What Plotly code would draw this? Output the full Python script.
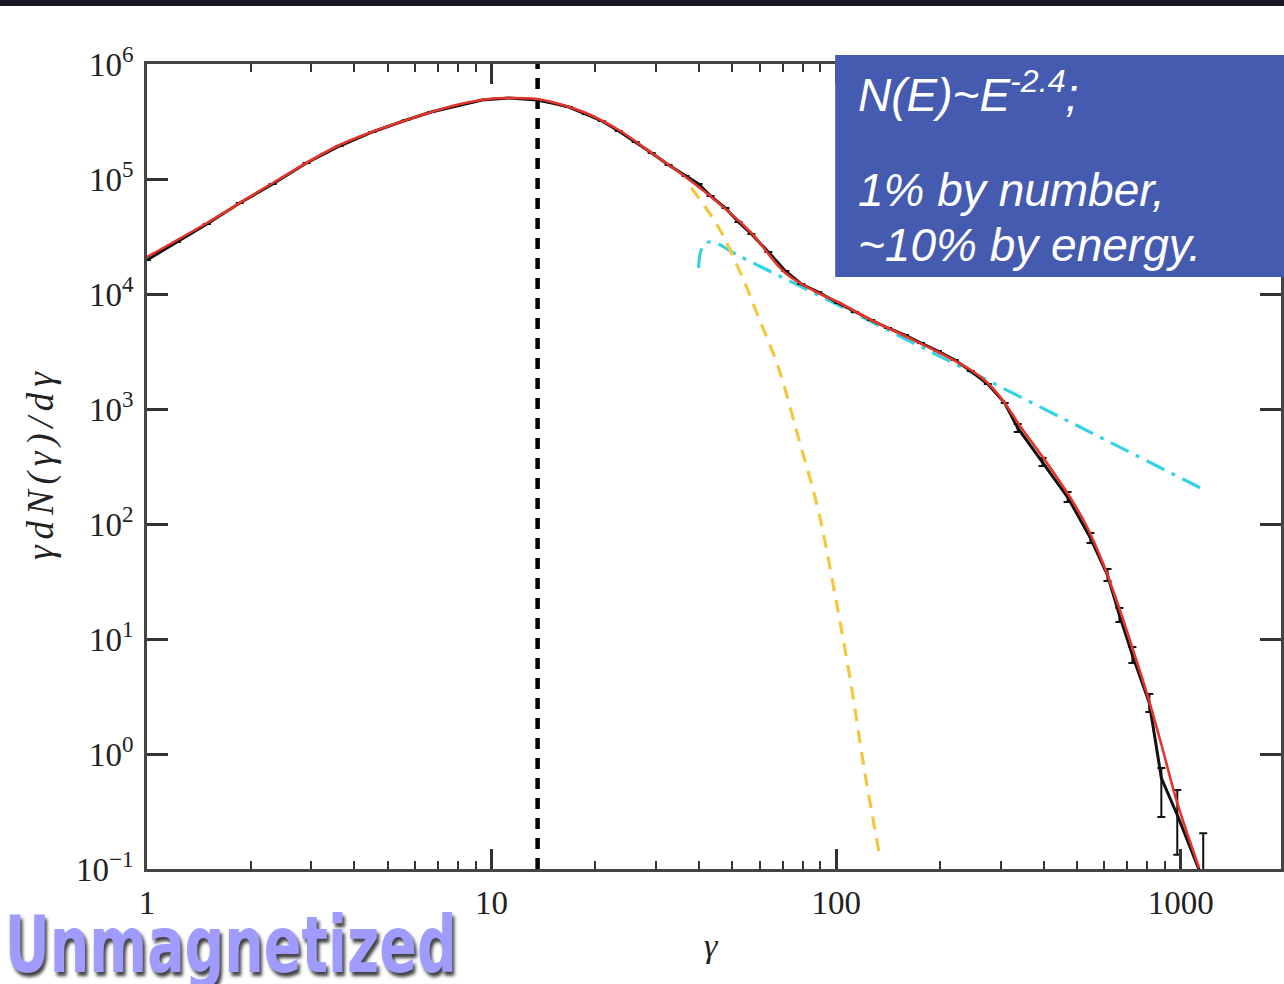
import plotly.graph_objects as go

# ---------------- data ----------------
# simulation spectrum (black, with error bars in the tail)
gamma_sim = [1.000, 1.221, 1.492, 1.859, 2.316, 2.904, 3.620, 4.510, 5.656, 6.680,
             7.895, 9.387, 11.24, 13.54, 14.97, 16.76, 18.77, 20.89, 23.39, 26.19,
             29.14, 32.64, 36.56, 39.87, 43.18, 47.73, 52.04, 56.75, 63.56, 71.19,
             79.19, 88.70, 101.3, 113.5, 126.3, 141.4, 158.4, 176.2, 197.3, 221.0,
             245.9, 275.4, 308.4,
             336.4, 397.2, 469.4, 547.0, 612.9, 663.7, 723.8, 810.6, 878.3, 977.0, 1162.0]
n_sim = [19750, 28330, 40610, 61840, 90440, 137800, 193600, 256300, 325900, 382400,
         431300, 486400, 506200, 486400, 458000, 422700, 367400, 319400, 261500, 209700,
         168300, 132300, 106200, 90440, 71150, 55960, 42270, 33240, 23190, 15850,
         12220, 10410, 8350, 6973, 5941, 5062, 4400, 3749, 3194, 2668,
         2140, 1650, 1128,
         683.7, 346.0, 171.7, 75.55, 36.02, 16.17, 7.26, 2.78, 0.618, 0.295, 0.080]
err_plus = [0] * 43 + [56.7, 28.7, 18.0, 7.9, 4.6, 2.4, 1.26, 0.55, 0.137, 0.192, 0.125]
err_minus = [0] * 43 + [52.7, 26.6, 16.3, 7.2, 4.1, 2.1, 1.07, 0.46, 0.335, 0.162, 0.04]

# total fit (red)
gamma_fit = [1.000, 1.492, 2.316, 3.620, 5.656, 7.895, 9.835, 11.24, 13.54, 14.97,
             18.77, 23.39, 29.14, 36.56, 45.56, 56.75, 71.19, 88.70, 101.3, 126.3,
             158.4, 197.3, 245.9, 275.4, 308.4, 343.2, 384.3, 430.5, 478.9, 536.3,
             592.7, 655.1, 723.8, 799.9, 884.2, 977.0, 1131.0]
n_fit = [20980, 41440, 92300, 197600, 325900, 440000, 496300, 506200, 496300, 467200,
         374900, 266800, 168300, 104100, 61840, 33910, 15220, 10200, 8520, 5940,
         4313, 3131, 2183, 1683, 1128, 697.4, 440.1, 272.2, 168.4, 92.3,
         46.7, 20.56, 8.35, 3.26, 1.128, 0.375, 0.102]

# Maxwellian component (yellow dashed)
gamma_mx = [38.0, 45.5, 53.1, 59.5, 67.9, 77.6, 88.7, 99.3, 110.5, 121.3, 134.1]
n_mx = [83500, 38200, 14600, 6310, 2320, 571, 132, 24.1, 3.98, 0.670, 0.125]

# power-law component (cyan dash-dot)
gamma_pl = [39.9, 40.4, 41.8, 44.1, 51.0, 100, 200, 500, 1170]
n_pl = [16800, 23200, 27700, 28300, 22300, 8180, 2870, 718, 198]

# vertical marker
gamma_mark = 13.6
y_mark = [0.1, 1e6]

x_ticks = [1, 10, 100, 1000]
x_ticktext = ["1", "10", "100", "1000"]
y_ticks = [1e-1, 1e0, 1e1, 1e2, 1e3, 1e4, 1e5, 1e6]
y_ticktext = ["10<sup>\u22121</sup>", "10<sup>0</sup>", "10<sup>1</sup>", "10<sup>2</sup>",
              "10<sup>3</sup>", "10<sup>4</sup>", "10<sup>5</sup>", "10<sup>6</sup>"]

# ---------------- figure ----------------
fig = go.Figure()

fig.add_trace(go.Scatter(x=gamma_pl, y=n_pl, mode="lines", line_shape="spline",
                         line=dict(color="#35D3E2", width=3.2, dash="20px,8px,4px,8px"),
                         showlegend=False))
fig.add_trace(go.Scatter(x=gamma_mx, y=n_mx, mode="lines", line_shape="spline",
                         line=dict(color="#F2C840", width=3.2, dash="13px,9px"),
                         showlegend=False))
fig.add_trace(go.Scatter(x=[gamma_mark, gamma_mark], y=y_mark, mode="lines",
                         line=dict(color="black", width=4.5, dash="11px,9px"),
                         showlegend=False))
fig.add_trace(go.Scatter(x=gamma_sim, y=n_sim, mode="lines",
                         line=dict(color="#111111", width=3),
                         error_y=dict(type="data", symmetric=False, array=err_plus,
                                      arrayminus=err_minus, color="#111111",
                                      thickness=2, width=4),
                         showlegend=False))
fig.add_trace(go.Scatter(x=gamma_fit, y=n_fit, mode="lines", line_shape="spline",
                         line=dict(color="#E5352B", width=2.6),
                         showlegend=False))

axis_common = dict(showgrid=False, zeroline=False, showline=True, linecolor="#444444",
                   linewidth=2.5, mirror="ticks", ticks="inside", tickcolor="#333333",
                   tickwidth=2.5,
                   tickfont=dict(family="Liberation Serif, Times New Roman, serif",
                                 size=33, color="#222222"))

fig.update_xaxes(type="log", range=[0, 3.2909], tickvals=x_ticks, ticktext=x_ticktext,
                 ticklen=20, ticklabelstandoff=3,
                 minor=dict(ticks="inside", ticklen=8, tickwidth=2, tickcolor="#333333",
                            dtick="D1", showgrid=False),
                 **axis_common)
fig.update_yaxes(type="log", range=[-1, 6], tickvals=y_ticks, ticktext=y_ticktext,
                 ticklen=21, ticklabelstandoff=4,
                 **axis_common)

W, H = 1284, 984
L, R, T, B = 147, 0, 64, 115
PW, PH = W - L - R, H - T - B


def px(x):
    return (x - L) / PW


def py(y):
    return (H - B - y) / PH


shapes = [
    dict(type="rect", xref="paper", yref="paper", x0=px(-10), x1=px(1300),
         y0=py(6), y1=py(-5), fillcolor="#1C1724", line_width=0, layer="above"),
    dict(type="rect", xref="paper", yref="paper", x0=px(837), x1=px(1300),
         y0=py(277), y1=py(55), fillcolor="#455BAF", line_width=0, layer="above"),
]

box_font = dict(family="Liberation Sans, Arial, sans-serif", size=46, color="white",
                style="italic")
serif_it = dict(family="Liberation Serif, Times New Roman, serif", size=37,
                color="#222222", style="italic")
annotations = [
    dict(text="N(E)~E<sup>-2.4</sup>;", xref="paper", yref="paper",
         x=px(858), y=py(92), xanchor="left", yanchor="middle", showarrow=False,
         font=box_font),
    dict(text="1% by number,", xref="paper", yref="paper",
         x=px(858), y=py(190), xanchor="left", yanchor="middle", showarrow=False,
         font=box_font),
    dict(text="~10% by energy.", xref="paper", yref="paper",
         x=px(858), y=py(245), xanchor="left", yanchor="middle", showarrow=False,
         font=box_font),
    dict(text="\u03b3dN(\u03b3)/d\u03b3", xref="paper", yref="paper",
         x=px(41), y=py(465), xanchor="center", yanchor="middle", textangle=-90,
         showarrow=False, font=serif_it),
    dict(text="\u03b3", xref="paper", yref="paper",
         x=px(713), y=py(945), xanchor="center", yanchor="middle", showarrow=False,
         font=dict(serif_it, size=34)),
    dict(text="Unmagnetized", xref="paper", yref="paper",
         x=px(231), y=py(945), xanchor="center", yanchor="middle", align="center",
         showarrow=False,
         font=dict(family="Liberation Sans Narrow, DejaVu Sans Condensed, sans-serif",
                   size=78, color="#9F9BFF", weight=700,
                   shadow="3px 4px 4px rgba(0,0,0,0.75)")),
]

fig.update_layout(width=W, height=H, margin=dict(l=L, r=R, t=T, b=B),
                  paper_bgcolor="white", plot_bgcolor="white",
                  shapes=shapes, annotations=annotations, showlegend=False)

post = """
document.body.style.margin = '0';
document.body.style.overflow = 'hidden';
var gd = document.getElementById('{plot_id}');
gd.querySelectorAll('text.annotation-text').forEach(function(t) {
  var s = t.textContent;
  if (s === 'Unmagnetized') {
    t.setAttribute('textLength', '452');
    t.setAttribute('lengthAdjust', 'spacingAndGlyphs');
  } else if (s.indexOf('dN') >= 0) {
    t.setAttribute('textLength', '188');
    t.setAttribute('lengthAdjust', 'spacing');
  }
});
"""

fig.write_html("out.html", post_script=post, config={"displayModeBar": False})
